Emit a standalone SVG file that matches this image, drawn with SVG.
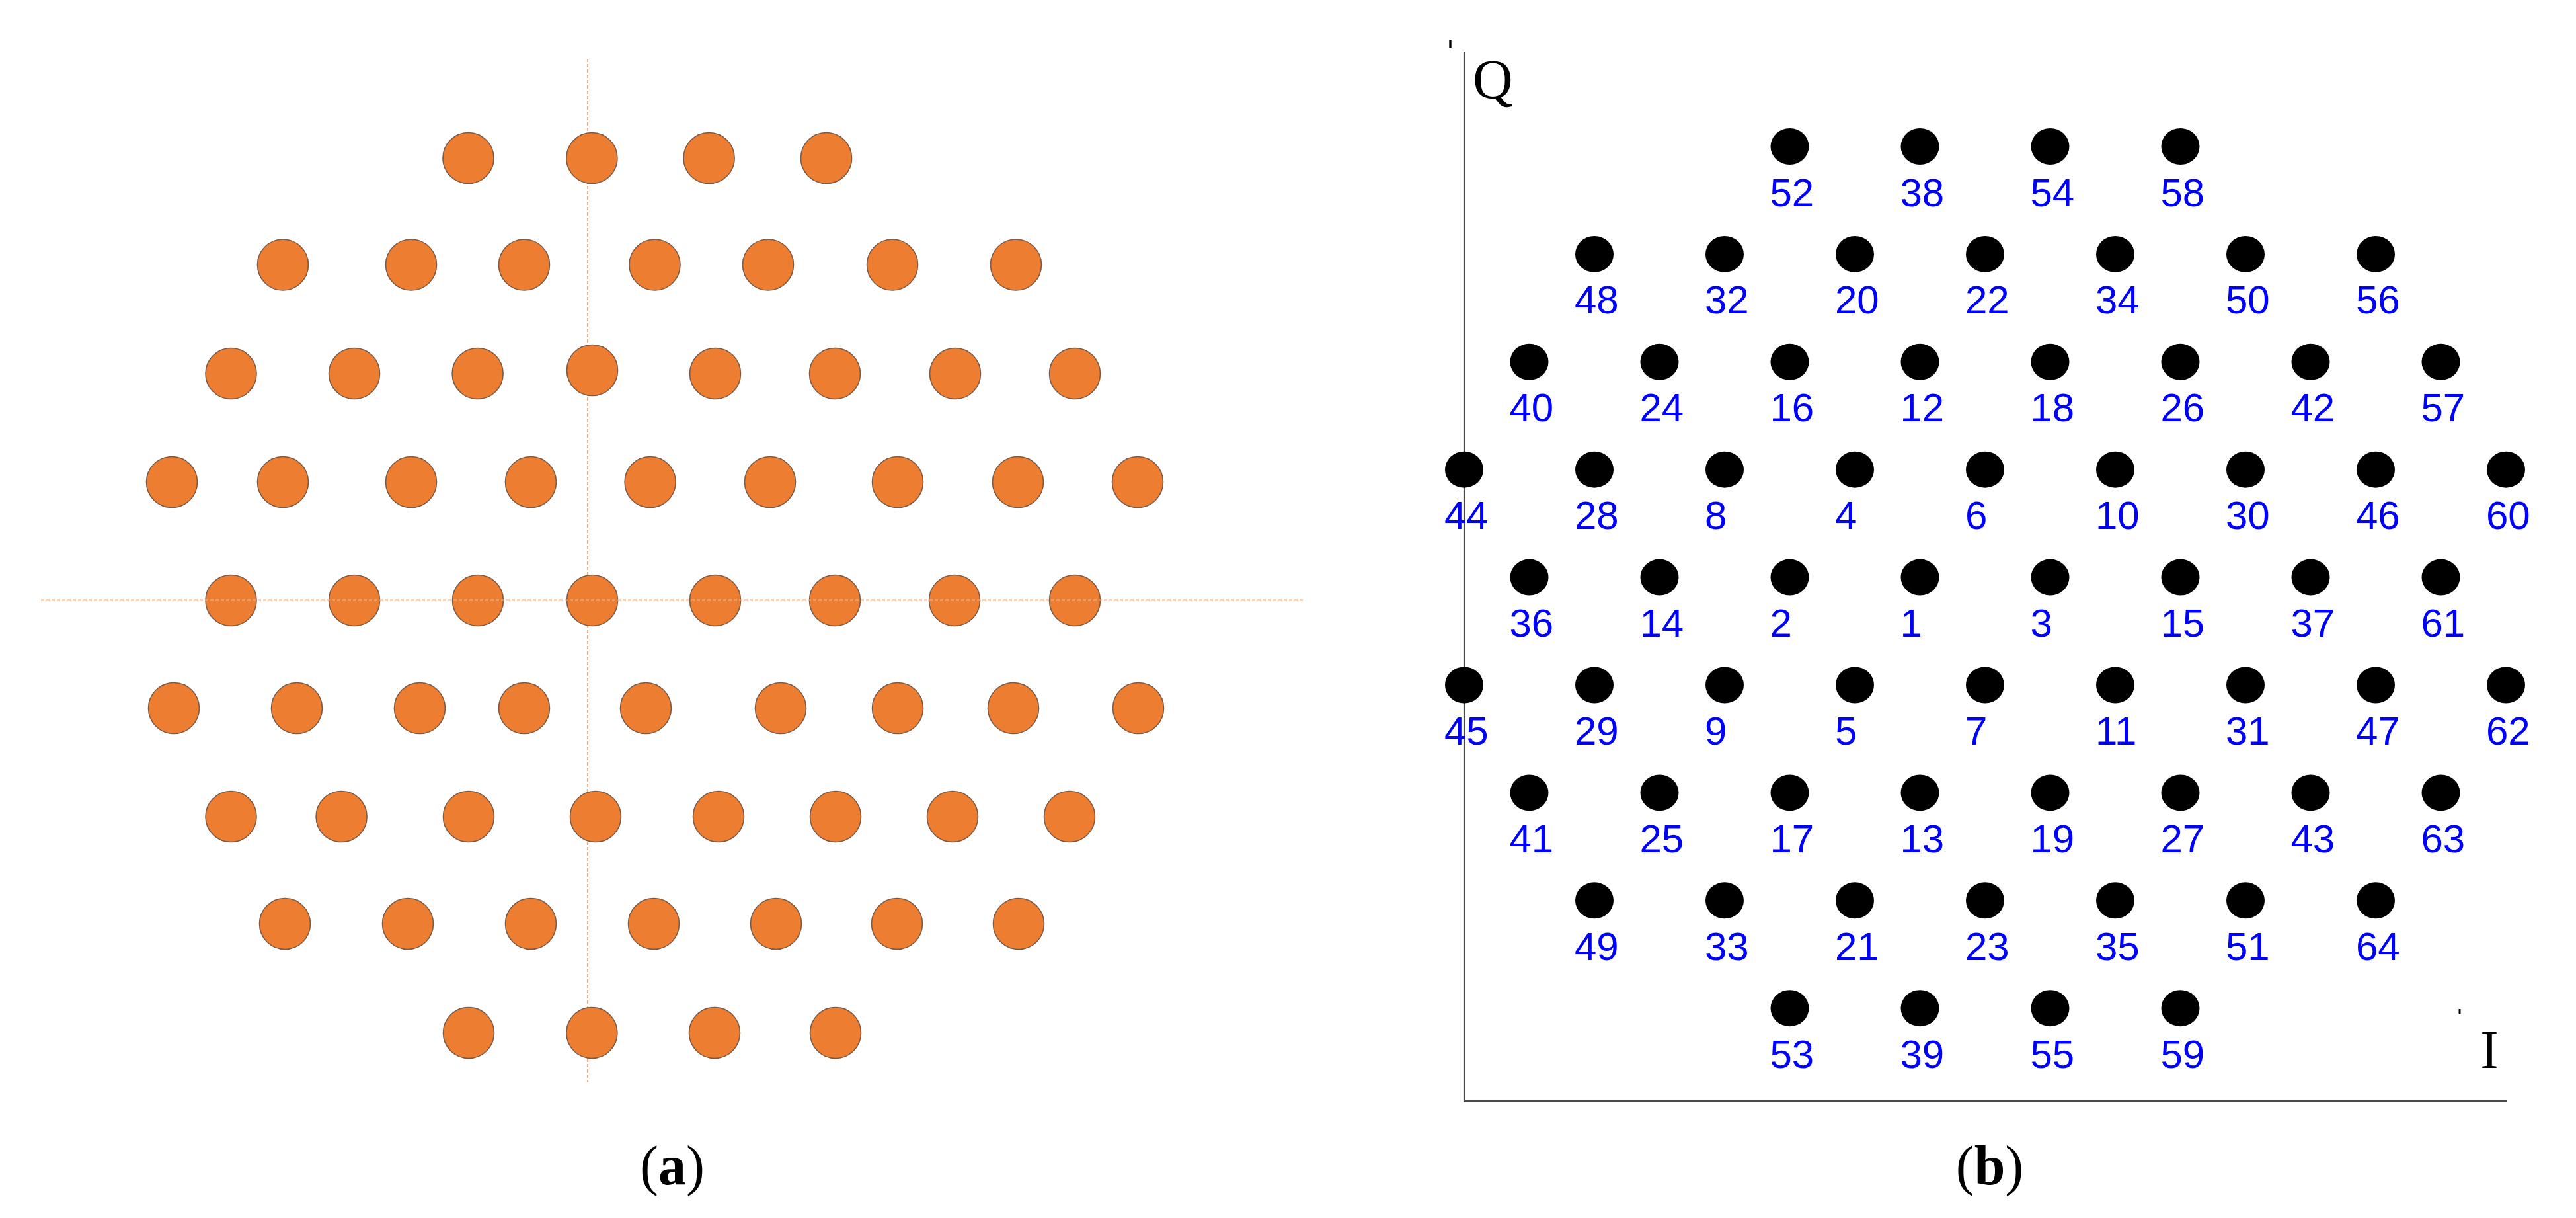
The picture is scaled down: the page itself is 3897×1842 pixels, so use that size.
<svg xmlns="http://www.w3.org/2000/svg" width="3897" height="1842" viewBox="0 0 3897 1842">
<style>
.bg{fill:#ffffff}
.oc{fill:#ED7D31;stroke:#7a5a45;stroke-width:1.6}
.dash{stroke:#F4B183;stroke-width:2.2;stroke-dasharray:5 3;fill:none}
.dot{fill:#000000}
.lbl{font-family:"Liberation Sans",Arial,sans-serif;font-size:60px;fill:#0000FF}
.axis{stroke:#4a4a4a;fill:none}
.ser{font-family:"Liberation Serif","Times New Roman",serif;fill:#000}
</style>
<rect class="bg" x="0" y="0" width="3897" height="1842"/>

<!-- Panel (a) -->
<g id="panel-a">
<line id="a-vaxis" class="dash" x1="889" y1="89" x2="889" y2="1637"/>
<g id="a-points">
<g id="a-r1-1"><circle class="oc" cx="708.5" cy="239" r="38.5"/></g>
<g id="a-r1-2"><circle class="oc" cx="895.4" cy="239" r="38.5"/></g>
<g id="a-r1-3"><circle class="oc" cx="1072.6" cy="239" r="38.5"/></g>
<g id="a-r1-4"><circle class="oc" cx="1250" cy="239" r="38.5"/></g>

<g id="a-r2-1"><circle class="oc" cx="428" cy="400.5" r="38.5"/></g>
<g id="a-r2-2"><circle class="oc" cx="622" cy="400.5" r="38.5"/></g>
<g id="a-r2-3"><circle class="oc" cx="793" cy="400.5" r="38.5"/></g>
<g id="a-r2-4"><circle class="oc" cx="990.5" cy="400.5" r="38.5"/></g>
<g id="a-r2-5"><circle class="oc" cx="1162" cy="400.5" r="38.5"/></g>
<g id="a-r2-6"><circle class="oc" cx="1350" cy="400.5" r="38.5"/></g>
<g id="a-r2-7"><circle class="oc" cx="1537" cy="400.5" r="38.5"/></g>

<g id="a-r3-1"><circle class="oc" cx="349.5" cy="565" r="38.5"/></g>
<g id="a-r3-2"><circle class="oc" cx="536" cy="565" r="38.5"/></g>
<g id="a-r3-3"><circle class="oc" cx="722.6" cy="565" r="38.5"/></g>
<g id="a-r3-4"><circle class="oc" cx="896" cy="560" r="38.5"/></g>
<g id="a-r3-5"><circle class="oc" cx="1082" cy="565" r="38.5"/></g>
<g id="a-r3-6"><circle class="oc" cx="1263" cy="565" r="38.5"/></g>
<g id="a-r3-7"><circle class="oc" cx="1445" cy="565" r="38.5"/></g>
<g id="a-r3-8"><circle class="oc" cx="1626" cy="565" r="38.5"/></g>

<g id="a-r4-1"><circle class="oc" cx="260" cy="729" r="38.5"/></g>
<g id="a-r4-2"><circle class="oc" cx="428" cy="729" r="38.5"/></g>
<g id="a-r4-3"><circle class="oc" cx="622" cy="729" r="38.5"/></g>
<g id="a-r4-4"><circle class="oc" cx="803" cy="729" r="38.5"/></g>
<g id="a-r4-5"><circle class="oc" cx="983.6" cy="729" r="38.5"/></g>
<g id="a-r4-6"><circle class="oc" cx="1165" cy="729" r="38.5"/></g>
<g id="a-r4-7"><circle class="oc" cx="1358" cy="729" r="38.5"/></g>
<g id="a-r4-8"><circle class="oc" cx="1540" cy="729" r="38.5"/></g>
<g id="a-r4-9"><circle class="oc" cx="1721" cy="729" r="38.5"/></g>

<g id="a-r5-1"><circle class="oc" cx="349.5" cy="908" r="38.5"/></g>
<g id="a-r5-2"><circle class="oc" cx="536" cy="908" r="38.5"/></g>
<g id="a-r5-3"><circle class="oc" cx="723" cy="908" r="38.5"/></g>
<g id="a-r5-4"><circle class="oc" cx="896" cy="908" r="38.5"/></g>
<g id="a-r5-5"><circle class="oc" cx="1082" cy="908" r="38.5"/></g>
<g id="a-r5-6"><circle class="oc" cx="1263" cy="908" r="38.5"/></g>
<g id="a-r5-7"><circle class="oc" cx="1444" cy="908" r="38.5"/></g>
<g id="a-r5-8"><circle class="oc" cx="1626" cy="908" r="38.5"/></g>

<g id="a-r6-1"><circle class="oc" cx="263" cy="1071" r="38.5"/></g>
<g id="a-r6-2"><circle class="oc" cx="449" cy="1071" r="38.5"/></g>
<g id="a-r6-3"><circle class="oc" cx="635" cy="1071" r="38.5"/></g>
<g id="a-r6-4"><circle class="oc" cx="793" cy="1071" r="38.5"/></g>
<g id="a-r6-5"><circle class="oc" cx="977" cy="1071" r="38.5"/></g>
<g id="a-r6-6"><circle class="oc" cx="1181" cy="1071" r="38.5"/></g>
<g id="a-r6-7"><circle class="oc" cx="1358" cy="1071" r="38.5"/></g>
<g id="a-r6-8"><circle class="oc" cx="1533" cy="1071" r="38.5"/></g>
<g id="a-r6-9"><circle class="oc" cx="1722" cy="1071" r="38.5"/></g>

<g id="a-r7-1"><circle class="oc" cx="349.5" cy="1235" r="38.5"/></g>
<g id="a-r7-2"><circle class="oc" cx="516.6" cy="1235" r="38.5"/></g>
<g id="a-r7-3"><circle class="oc" cx="709" cy="1235" r="38.5"/></g>
<g id="a-r7-4"><circle class="oc" cx="901" cy="1235" r="38.5"/></g>
<g id="a-r7-5"><circle class="oc" cx="1087" cy="1235" r="38.5"/></g>
<g id="a-r7-6"><circle class="oc" cx="1264" cy="1235" r="38.5"/></g>
<g id="a-r7-7"><circle class="oc" cx="1441" cy="1235" r="38.5"/></g>
<g id="a-r7-8"><circle class="oc" cx="1618" cy="1235" r="38.5"/></g>

<g id="a-r8-1"><circle class="oc" cx="431" cy="1397" r="38.5"/></g>
<g id="a-r8-2"><circle class="oc" cx="617" cy="1397" r="38.5"/></g>
<g id="a-r8-3"><circle class="oc" cx="803" cy="1397" r="38.5"/></g>
<g id="a-r8-4"><circle class="oc" cx="989" cy="1397" r="38.5"/></g>
<g id="a-r8-5"><circle class="oc" cx="1174" cy="1397" r="38.5"/></g>
<g id="a-r8-6"><circle class="oc" cx="1357" cy="1397" r="38.5"/></g>
<g id="a-r8-7"><circle class="oc" cx="1541" cy="1397" r="38.5"/></g>

<g id="a-r9-1"><circle class="oc" cx="709" cy="1562" r="38.5"/></g>
<g id="a-r9-2"><circle class="oc" cx="895.4" cy="1562" r="38.5"/></g>
<g id="a-r9-3"><circle class="oc" cx="1081" cy="1562" r="38.5"/></g>
<g id="a-r9-4"><circle class="oc" cx="1264" cy="1562" r="38.5"/></g>
</g>
<line id="a-haxis" class="dash" x1="62" y1="907.5" x2="1971" y2="907.5"/>
<text id="cap-a" class="ser" x="1017" y="1791" font-size="84" text-anchor="middle">(<tspan font-weight="bold">a</tspan>)</text>
</g>

<!-- Panel (b) -->
<g id="panel-b">
<g id="b-axes">
<line class="axis" stroke-width="2.2" x1="2215" y1="78" x2="2215" y2="1666"/>
<line class="axis" stroke-width="3.4" x1="2214" y1="1665" x2="3792" y2="1665"/>
<line stroke="#000" stroke-width="3.4" x1="2194" y1="61" x2="2194" y2="73"/>
<line stroke="#000" stroke-width="3" x1="3721" y1="1526" x2="3721" y2="1533"/>
</g>
<text id="lbl-Q" class="ser" x="2228" y="149" font-size="84">Q</text>
<text id="lbl-I" class="ser" x="3766" y="1615" font-size="82" text-anchor="middle">I</text>

<g id="b-points">
<!-- row 1 -->
<g id="p52" transform="translate(2707.5,221.5)"><ellipse class="dot" rx="29" ry="27.5"/><text class="lbl" x="-30" y="90">52</text></g>
<g id="p38" transform="translate(2904.5,221.5)"><ellipse class="dot" rx="29" ry="27.5"/><text class="lbl" x="-30" y="90">38</text></g>
<g id="p54" transform="translate(3101.5,221.5)"><ellipse class="dot" rx="29" ry="27.5"/><text class="lbl" x="-30" y="90">54</text></g>
<g id="p58" transform="translate(3298.5,221.5)"><ellipse class="dot" rx="29" ry="27.5"/><text class="lbl" x="-30" y="90">58</text></g>
<!-- row 2 -->
<g id="p48" transform="translate(2412,384.4)"><ellipse class="dot" rx="29" ry="27.5"/><text class="lbl" x="-30" y="90">48</text></g>
<g id="p32" transform="translate(2609,384.4)"><ellipse class="dot" rx="29" ry="27.5"/><text class="lbl" x="-30" y="90">32</text></g>
<g id="p20" transform="translate(2806,384.4)"><ellipse class="dot" rx="29" ry="27.5"/><text class="lbl" x="-30" y="90">20</text></g>
<g id="p22" transform="translate(3003,384.4)"><ellipse class="dot" rx="29" ry="27.5"/><text class="lbl" x="-30" y="90">22</text></g>
<g id="p34" transform="translate(3200,384.4)"><ellipse class="dot" rx="29" ry="27.5"/><text class="lbl" x="-30" y="90">34</text></g>
<g id="p50" transform="translate(3397,384.4)"><ellipse class="dot" rx="29" ry="27.5"/><text class="lbl" x="-30" y="90">50</text></g>
<g id="p56" transform="translate(3594,384.4)"><ellipse class="dot" rx="29" ry="27.5"/><text class="lbl" x="-30" y="90">56</text></g>
<!-- row 3 -->
<g id="p40" transform="translate(2313.5,547.3)"><ellipse class="dot" rx="29" ry="27.5"/><text class="lbl" x="-30" y="90">40</text></g>
<g id="p24" transform="translate(2510.5,547.3)"><ellipse class="dot" rx="29" ry="27.5"/><text class="lbl" x="-30" y="90">24</text></g>
<g id="p16" transform="translate(2707.5,547.3)"><ellipse class="dot" rx="29" ry="27.5"/><text class="lbl" x="-30" y="90">16</text></g>
<g id="p12" transform="translate(2904.5,547.3)"><ellipse class="dot" rx="29" ry="27.5"/><text class="lbl" x="-30" y="90">12</text></g>
<g id="p18" transform="translate(3101.5,547.3)"><ellipse class="dot" rx="29" ry="27.5"/><text class="lbl" x="-30" y="90">18</text></g>
<g id="p26" transform="translate(3298.5,547.3)"><ellipse class="dot" rx="29" ry="27.5"/><text class="lbl" x="-30" y="90">26</text></g>
<g id="p42" transform="translate(3495.5,547.3)"><ellipse class="dot" rx="29" ry="27.5"/><text class="lbl" x="-30" y="90">42</text></g>
<g id="p57" transform="translate(3692.5,547.3)"><ellipse class="dot" rx="29" ry="27.5"/><text class="lbl" x="-30" y="90">57</text></g>
<!-- row 4 -->
<g id="p44" transform="translate(2215,710.2)"><ellipse class="dot" rx="29" ry="27.5"/><text class="lbl" x="-30" y="90">44</text></g>
<g id="p28" transform="translate(2412,710.2)"><ellipse class="dot" rx="29" ry="27.5"/><text class="lbl" x="-30" y="90">28</text></g>
<g id="p8" transform="translate(2609,710.2)"><ellipse class="dot" rx="29" ry="27.5"/><text class="lbl" x="-30" y="90">8</text></g>
<g id="p4" transform="translate(2806,710.2)"><ellipse class="dot" rx="29" ry="27.5"/><text class="lbl" x="-30" y="90">4</text></g>
<g id="p6" transform="translate(3003,710.2)"><ellipse class="dot" rx="29" ry="27.5"/><text class="lbl" x="-30" y="90">6</text></g>
<g id="p10" transform="translate(3200,710.2)"><ellipse class="dot" rx="29" ry="27.5"/><text class="lbl" x="-30" y="90">10</text></g>
<g id="p30" transform="translate(3397,710.2)"><ellipse class="dot" rx="29" ry="27.5"/><text class="lbl" x="-30" y="90">30</text></g>
<g id="p46" transform="translate(3594,710.2)"><ellipse class="dot" rx="29" ry="27.5"/><text class="lbl" x="-30" y="90">46</text></g>
<g id="p60" transform="translate(3791,710.2)"><ellipse class="dot" rx="29" ry="27.5"/><text class="lbl" x="-30" y="90">60</text></g>
<!-- row 5 -->
<g id="p36" transform="translate(2313.5,873.1)"><ellipse class="dot" rx="29" ry="27.5"/><text class="lbl" x="-30" y="90">36</text></g>
<g id="p14" transform="translate(2510.5,873.1)"><ellipse class="dot" rx="29" ry="27.5"/><text class="lbl" x="-30" y="90">14</text></g>
<g id="p2" transform="translate(2707.5,873.1)"><ellipse class="dot" rx="29" ry="27.5"/><text class="lbl" x="-30" y="90">2</text></g>
<g id="p1" transform="translate(2904.5,873.1)"><ellipse class="dot" rx="29" ry="27.5"/><text class="lbl" x="-30" y="90">1</text></g>
<g id="p3" transform="translate(3101.5,873.1)"><ellipse class="dot" rx="29" ry="27.5"/><text class="lbl" x="-30" y="90">3</text></g>
<g id="p15" transform="translate(3298.5,873.1)"><ellipse class="dot" rx="29" ry="27.5"/><text class="lbl" x="-30" y="90">15</text></g>
<g id="p37" transform="translate(3495.5,873.1)"><ellipse class="dot" rx="29" ry="27.5"/><text class="lbl" x="-30" y="90">37</text></g>
<g id="p61" transform="translate(3692.5,873.1)"><ellipse class="dot" rx="29" ry="27.5"/><text class="lbl" x="-30" y="90">61</text></g>
<!-- row 6 -->
<g id="p45" transform="translate(2215,1036)"><ellipse class="dot" rx="29" ry="27.5"/><text class="lbl" x="-30" y="90">45</text></g>
<g id="p29" transform="translate(2412,1036)"><ellipse class="dot" rx="29" ry="27.5"/><text class="lbl" x="-30" y="90">29</text></g>
<g id="p9" transform="translate(2609,1036)"><ellipse class="dot" rx="29" ry="27.5"/><text class="lbl" x="-30" y="90">9</text></g>
<g id="p5" transform="translate(2806,1036)"><ellipse class="dot" rx="29" ry="27.5"/><text class="lbl" x="-30" y="90">5</text></g>
<g id="p7" transform="translate(3003,1036)"><ellipse class="dot" rx="29" ry="27.5"/><text class="lbl" x="-30" y="90">7</text></g>
<g id="p11" transform="translate(3200,1036)"><ellipse class="dot" rx="29" ry="27.5"/><text class="lbl" x="-30" y="90">11</text></g>
<g id="p31" transform="translate(3397,1036)"><ellipse class="dot" rx="29" ry="27.5"/><text class="lbl" x="-30" y="90">31</text></g>
<g id="p47" transform="translate(3594,1036)"><ellipse class="dot" rx="29" ry="27.5"/><text class="lbl" x="-30" y="90">47</text></g>
<g id="p62" transform="translate(3791,1036)"><ellipse class="dot" rx="29" ry="27.5"/><text class="lbl" x="-30" y="90">62</text></g>
<!-- row 7 -->
<g id="p41" transform="translate(2313.5,1198.9)"><ellipse class="dot" rx="29" ry="27.5"/><text class="lbl" x="-30" y="90">41</text></g>
<g id="p25" transform="translate(2510.5,1198.9)"><ellipse class="dot" rx="29" ry="27.5"/><text class="lbl" x="-30" y="90">25</text></g>
<g id="p17" transform="translate(2707.5,1198.9)"><ellipse class="dot" rx="29" ry="27.5"/><text class="lbl" x="-30" y="90">17</text></g>
<g id="p13" transform="translate(2904.5,1198.9)"><ellipse class="dot" rx="29" ry="27.5"/><text class="lbl" x="-30" y="90">13</text></g>
<g id="p19" transform="translate(3101.5,1198.9)"><ellipse class="dot" rx="29" ry="27.5"/><text class="lbl" x="-30" y="90">19</text></g>
<g id="p27" transform="translate(3298.5,1198.9)"><ellipse class="dot" rx="29" ry="27.5"/><text class="lbl" x="-30" y="90">27</text></g>
<g id="p43" transform="translate(3495.5,1198.9)"><ellipse class="dot" rx="29" ry="27.5"/><text class="lbl" x="-30" y="90">43</text></g>
<g id="p63" transform="translate(3692.5,1198.9)"><ellipse class="dot" rx="29" ry="27.5"/><text class="lbl" x="-30" y="90">63</text></g>
<!-- row 8 -->
<g id="p49" transform="translate(2412,1361.8)"><ellipse class="dot" rx="29" ry="27.5"/><text class="lbl" x="-30" y="90">49</text></g>
<g id="p33" transform="translate(2609,1361.8)"><ellipse class="dot" rx="29" ry="27.5"/><text class="lbl" x="-30" y="90">33</text></g>
<g id="p21" transform="translate(2806,1361.8)"><ellipse class="dot" rx="29" ry="27.5"/><text class="lbl" x="-30" y="90">21</text></g>
<g id="p23" transform="translate(3003,1361.8)"><ellipse class="dot" rx="29" ry="27.5"/><text class="lbl" x="-30" y="90">23</text></g>
<g id="p35" transform="translate(3200,1361.8)"><ellipse class="dot" rx="29" ry="27.5"/><text class="lbl" x="-30" y="90">35</text></g>
<g id="p51" transform="translate(3397,1361.8)"><ellipse class="dot" rx="29" ry="27.5"/><text class="lbl" x="-30" y="90">51</text></g>
<g id="p64" transform="translate(3594,1361.8)"><ellipse class="dot" rx="29" ry="27.5"/><text class="lbl" x="-30" y="90">64</text></g>
<!-- row 9 -->
<g id="p53" transform="translate(2707.5,1524.7)"><ellipse class="dot" rx="29" ry="27.5"/><text class="lbl" x="-30" y="90">53</text></g>
<g id="p39" transform="translate(2904.5,1524.7)"><ellipse class="dot" rx="29" ry="27.5"/><text class="lbl" x="-30" y="90">39</text></g>
<g id="p55" transform="translate(3101.5,1524.7)"><ellipse class="dot" rx="29" ry="27.5"/><text class="lbl" x="-30" y="90">55</text></g>
<g id="p59" transform="translate(3298.5,1524.7)"><ellipse class="dot" rx="29" ry="27.5"/><text class="lbl" x="-30" y="90">59</text></g>
</g>
<text id="cap-b" class="ser" x="3010" y="1791" font-size="84" text-anchor="middle">(<tspan font-weight="bold">b</tspan>)</text>
</g>
</svg>
